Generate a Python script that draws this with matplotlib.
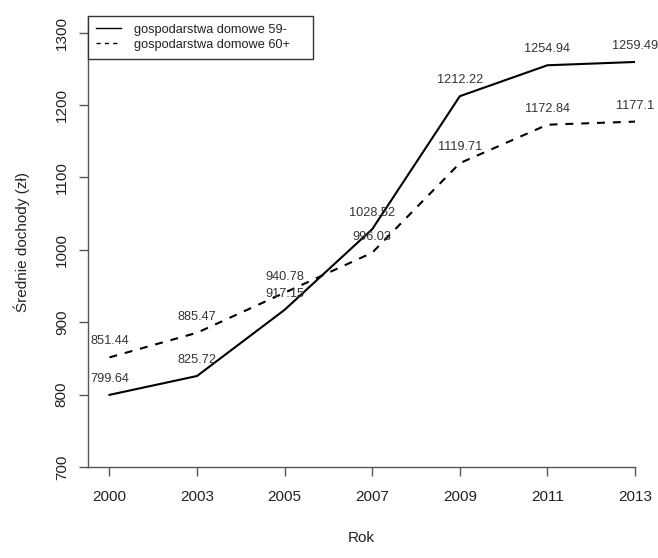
import matplotlib
matplotlib.use("Agg")
import matplotlib.pyplot as plt
from matplotlib.lines import Line2D

plt.rcParams['font.family'] = ['Liberation Sans', 'DejaVu Sans']

years = ['2000', '2003', '2005', '2007', '2009', '2011', '2013']
dochody_59 = [799.64, 825.72, 917.15, 1028.52, 1212.22, 1254.94, 1259.49]
dochody_60 = [851.44, 885.47, 940.78, 996.03, 1119.71, 1172.84, 1177.1]
y_ticks = [700, 800, 900, 1000, 1100, 1200, 1300]

x = list(range(1, len(years) + 1))
axis_col = '#555555'
text_col = '#222222'

fig = plt.figure(figsize=(6.58, 5.58), dpi=100)
W, H = 658, 558
ax = fig.add_axes([88 / W, (H - 467) / H, (635 - 88) / W, (467 - 16) / H])

ax.plot(x, dochody_59, color='black', lw=1.5, solid_joinstyle='miter')
ax.plot(x, dochody_60, color='black', lw=1.5, linestyle=(0, (3.8, 3.8)))

# etykiety wartosci nad punktami
for xi, v in zip(x, dochody_59):
    ax.annotate(f'{v:g}', (xi, v), xytext=(0, 11.5), textcoords='offset points',
                ha='center', va='center', fontsize=9.2, color='#333333')
for xi, v in zip(x, dochody_60):
    ax.annotate(f'{v:g}', (xi, v), xytext=(0, 11.5), textcoords='offset points',
                ha='center', va='center', fontsize=9.2, color='#333333')

ax.set_xlim(0.755, 7.0)
ax.set_ylim(700, 1323)
ax.set_xticks(x)
ax.set_xticklabels(years)
ax.set_yticks(y_ticks)
ax.set_yticklabels([str(t) for t in y_ticks], rotation=90, va='center')

for side in ['top', 'right']:
    ax.spines[side].set_visible(False)
for side in ['left', 'bottom']:
    ax.spines[side].set_color(axis_col)
    ax.spines[side].set_linewidth(1.0)
ax.tick_params(axis='both', colors=axis_col, labelcolor=text_col, length=6.8,
               width=1.0, labelsize=11, pad=7)
ax.tick_params(axis='x', pad=9.5)

ax.set_xlabel('Rok', fontsize=11, color=text_col, va='center')
ax.set_ylabel('Średnie dochody (zł)', fontsize=11, color=text_col, va='center')
ax.xaxis.set_label_coords(0.5, (467 - 538) / 451)
ax.yaxis.set_label_coords((22 - 88) / 547, 0.5)

handles = [Line2D([], [], color='black', lw=1.0),
           Line2D([], [], color='black', lw=1.0, linestyle=(0, (3, 3)))]
leg = ax.legend(handles, ['gospodarstwa domowe 59-', 'gospodarstwa domowe 60+'],
                loc='upper left', bbox_to_anchor=(0, 1, 225 / 547, 0), mode='expand',
                borderaxespad=0, fontsize=9.2, frameon=True, fancybox=False,
                framealpha=1, edgecolor='#333333', handlelength=2.0,
                handletextpad=1.0, borderpad=0.6, labelspacing=0.25)
leg.get_frame().set_linewidth(1.0)
for t in leg.get_texts():
    t.set_color(text_col)

fig.savefig('out.png', dpi=100)
